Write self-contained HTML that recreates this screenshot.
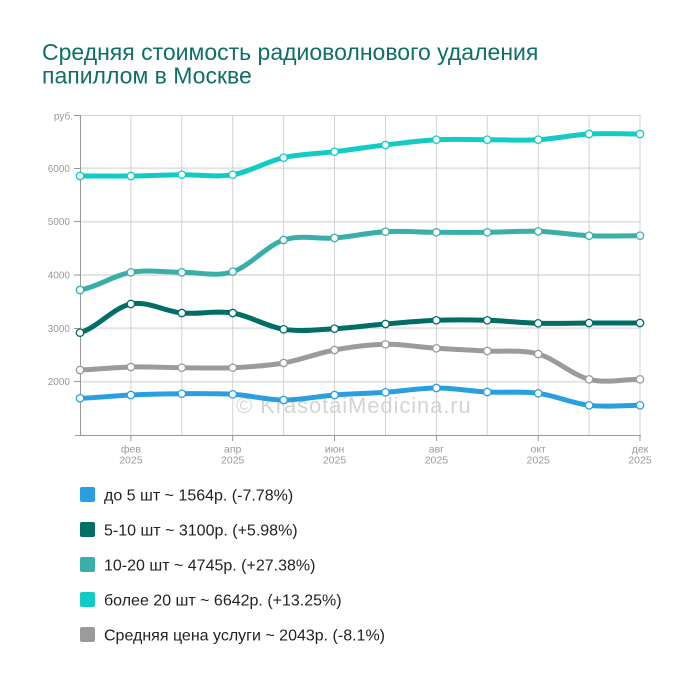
<!DOCTYPE html>
<html>
<head>
<meta charset="utf-8">
<style>
html,body{margin:0;padding:0;background:#fff;}
svg{display:block;}
text{font-family:"Liberation Sans","DejaVu Sans",sans-serif;}
</style>
</head>
<body>
<svg width="700" height="680" viewBox="0 0 700 680" xmlns="http://www.w3.org/2000/svg">
<rect width="700" height="680" fill="#fff"/>
<!-- Title -->
<text x="42" y="60" font-size="23" fill="#0f6e67">Средняя стоимость радиоволнового удаления</text>
<text x="42" y="83.3" font-size="23" fill="#0f6e67">папиллом в Москве</text>

<!-- horizontal gridlines -->
<g stroke="#e4e4e4" stroke-width="2">
<line x1="80" y1="168.3" x2="641" y2="168.3"/>
<line x1="80" y1="221.7" x2="641" y2="221.7"/>
<line x1="80" y1="275" x2="641" y2="275"/>
<line x1="80" y1="328.3" x2="641" y2="328.3"/>
<line x1="80" y1="381.7" x2="641" y2="381.7"/>
</g>
<line x1="80" y1="115.5" x2="641" y2="115.5" stroke="#d3d3d3" stroke-width="1"/>
<!-- vertical gridlines -->
<g stroke="#d3d3d3" stroke-width="1">
<line x1="130.9" y1="115" x2="130.9" y2="435"/>
<line x1="181.8" y1="115" x2="181.8" y2="435"/>
<line x1="232.7" y1="115" x2="232.7" y2="435"/>
<line x1="283.6" y1="115" x2="283.6" y2="435"/>
<line x1="334.5" y1="115" x2="334.5" y2="435"/>
<line x1="385.5" y1="115" x2="385.5" y2="435"/>
<line x1="436.4" y1="115" x2="436.4" y2="435"/>
<line x1="487.3" y1="115" x2="487.3" y2="435"/>
<line x1="538.2" y1="115" x2="538.2" y2="435"/>
<line x1="589.1" y1="115" x2="589.1" y2="435"/>
<line x1="640" y1="115" x2="640" y2="435"/>
</g>
<!-- axes -->
<g stroke="#999" stroke-width="1">
<line x1="80.5" y1="115" x2="80.5" y2="435"/>
<line x1="75" y1="435.5" x2="641" y2="435.5"/>
<line x1="74" y1="115.5" x2="80" y2="115.5"/>
<line x1="74" y1="168.5" x2="80" y2="168.5"/>
<line x1="74" y1="221.5" x2="80" y2="221.5"/>
<line x1="74" y1="275" x2="80" y2="275"/>
<line x1="74" y1="328.5" x2="80" y2="328.5"/>
<line x1="74" y1="381.5" x2="80" y2="381.5"/>
<line x1="130.9" y1="435" x2="130.9" y2="441"/>
<line x1="232.7" y1="435" x2="232.7" y2="441"/>
<line x1="334.5" y1="435" x2="334.5" y2="441"/>
<line x1="436.4" y1="435" x2="436.4" y2="441"/>
<line x1="538.2" y1="435" x2="538.2" y2="441"/>
<line x1="640" y1="435" x2="640" y2="441"/>
</g>
<!-- y labels -->
<g font-size="10" fill="#999" text-anchor="end">
<text x="73" y="119.5">руб.</text>
<text x="70" y="171.8">6000</text>
<text x="70" y="225.2">5000</text>
<text x="70" y="278.5">4000</text>
<text x="70" y="331.8">3000</text>
<text x="70" y="385.2">2000</text>
</g>
<!-- x labels -->
<g font-size="10.5" fill="#999" text-anchor="middle">
<text x="130.9" y="452.7">фев</text><text x="130.9" y="463.5">2025</text>
<text x="232.7" y="452.7">апр</text><text x="232.7" y="463.5">2025</text>
<text x="334.5" y="452.7">июн</text><text x="334.5" y="463.5">2025</text>
<text x="436.4" y="452.7">авг</text><text x="436.4" y="463.5">2025</text>
<text x="538.2" y="452.7">окт</text><text x="538.2" y="463.5">2025</text>
<text x="640" y="452.7">дек</text><text x="640" y="463.5">2025</text>
</g>

<!-- watermark -->
<text x="236" y="413" font-size="22" letter-spacing="0.9" fill="#d4d4d4">© KrasotaiMedicina.ru</text>

<!-- series -->
<g fill="none" stroke-width="5" stroke-linecap="round" stroke-linejoin="round">
<path stroke="#2a9fe0" d="M80,398.3 C96.97,397.75 113.94,395.77 130.91,395 C147.88,394.23 164.85,393.82 181.82,393.7 C198.79,393.58 215.76,393.25 232.73,394.3 C249.70,395.35 266.67,399.88 283.64,400 C300.61,400.12 317.58,396.28 334.55,395 C351.52,393.72 368.48,393.47 385.45,392.3 C402.42,391.13 419.39,388.05 436.36,388 C453.33,387.95 470.30,391.12 487.27,392 C504.24,392.88 521.21,391.08 538.18,393.3 C555.15,395.52 572.12,403.3 589.09,405.3 C606.06,407.3 623.03,405.3 640,405.3"/>
<path stroke="#9b9b9b" d="M80,370 C96.97,369.5 113.94,367.38 130.91,367 C147.88,366.62 164.85,367.58 181.82,367.7 C198.79,367.82 215.76,368.48 232.73,367.7 C249.70,366.92 266.67,365.95 283.64,363 C300.61,360.05 317.58,353.12 334.55,350 C351.52,346.88 368.48,344.58 385.45,344.3 C402.42,344.02 419.39,347.18 436.36,348.3 C453.33,349.42 470.30,350.05 487.27,351 C504.24,351.95 521.21,349.28 538.18,354 C555.15,358.72 572.12,375.08 589.09,379.3 C606.06,383.52 623.03,379.3 640,379.3"/>
<path stroke="#006d66" d="M80,332.7 C96.97,327.92 113.94,307.28 130.91,304 C147.88,300.72 164.85,311.5 181.82,313 C198.79,314.5 215.76,310.28 232.73,313 C249.70,315.72 266.67,326.68 283.64,329.3 C300.61,331.92 317.58,329.58 334.55,328.7 C351.52,327.82 368.48,325.4 385.45,324 C402.42,322.6 419.39,320.92 436.36,320.3 C453.33,319.68 470.30,319.8 487.27,320.3 C504.24,320.8 521.21,322.85 538.18,323.3 C555.15,323.75 572.12,323.05 589.09,323 C606.06,322.95 623.03,323 640,323"/>
<path stroke="#3aafa9" d="M80,290 C96.97,287.05 113.94,275.25 130.91,272.3 C147.88,269.35 164.85,272.4 181.82,272.3 C198.79,272.2 215.76,277.08 232.73,271.7 C249.70,266.32 266.67,245.62 283.64,240 C300.61,234.38 317.58,239.38 334.55,238 C351.52,236.62 368.48,232.65 385.45,231.7 C402.42,230.75 419.39,232.2 436.36,232.3 C453.33,232.4 470.30,232.47 487.27,232.3 C504.24,232.13 521.21,230.73 538.18,231.3 C555.15,231.87 572.12,234.97 589.09,235.7 C606.06,236.43 623.03,235.7 640,235.7"/>
<path stroke="#12cbc4" d="M80,176 C96.97,176 113.94,176.2 130.91,176 C147.88,175.8 164.85,174.9 181.82,174.7 C198.79,174.5 215.76,177.5 232.73,174.7 C249.70,171.9 266.67,161.5 283.64,157.7 C300.61,153.9 317.58,153.8 334.55,151.7 C351.52,149.6 368.48,147 385.45,145 C402.42,143 419.39,140.6 436.36,139.7 C453.33,138.8 470.30,139.7 487.27,139.7 C504.24,139.7 521.21,140.65 538.18,139.7 C555.15,138.75 572.12,134.95 589.09,134 C606.06,133.05 623.03,134 640,134"/>
</g>

<!-- markers -->
<g fill="#fff" stroke-width="1.3">
<g stroke="#2a9fe0">
<circle cx="80" cy="398.3" r="3.7"/><circle cx="130.91" cy="395" r="3.7"/><circle cx="181.82" cy="393.7" r="3.7"/><circle cx="232.73" cy="394.3" r="3.7"/><circle cx="283.64" cy="400" r="3.7"/><circle cx="334.55" cy="395" r="3.7"/><circle cx="385.45" cy="392.3" r="3.7"/><circle cx="436.36" cy="388" r="3.7"/><circle cx="487.27" cy="392" r="3.7"/><circle cx="538.18" cy="393.3" r="3.7"/><circle cx="589.09" cy="405.3" r="3.7"/><circle cx="640" cy="405.3" r="3.7"/>
</g>
<g stroke="#9b9b9b">
<circle cx="80" cy="370" r="3.7"/><circle cx="130.91" cy="367" r="3.7"/><circle cx="181.82" cy="367.7" r="3.7"/><circle cx="232.73" cy="367.7" r="3.7"/><circle cx="283.64" cy="363" r="3.7"/><circle cx="334.55" cy="350" r="3.7"/><circle cx="385.45" cy="344.3" r="3.7"/><circle cx="436.36" cy="348.3" r="3.7"/><circle cx="487.27" cy="351" r="3.7"/><circle cx="538.18" cy="354" r="3.7"/><circle cx="589.09" cy="379.3" r="3.7"/><circle cx="640" cy="379.3" r="3.7"/>
</g>
<g stroke="#006d66">
<circle cx="80" cy="332.7" r="3.7"/><circle cx="130.91" cy="304" r="3.7"/><circle cx="181.82" cy="313" r="3.7"/><circle cx="232.73" cy="313" r="3.7"/><circle cx="283.64" cy="329.3" r="3.7"/><circle cx="334.55" cy="328.7" r="3.7"/><circle cx="385.45" cy="324" r="3.7"/><circle cx="436.36" cy="320.3" r="3.7"/><circle cx="487.27" cy="320.3" r="3.7"/><circle cx="538.18" cy="323.3" r="3.7"/><circle cx="589.09" cy="323" r="3.7"/><circle cx="640" cy="323" r="3.7"/>
</g>
<g stroke="#3aafa9">
<circle cx="80" cy="290" r="3.7"/><circle cx="130.91" cy="272.3" r="3.7"/><circle cx="181.82" cy="272.3" r="3.7"/><circle cx="232.73" cy="271.7" r="3.7"/><circle cx="283.64" cy="240" r="3.7"/><circle cx="334.55" cy="238" r="3.7"/><circle cx="385.45" cy="231.7" r="3.7"/><circle cx="436.36" cy="232.3" r="3.7"/><circle cx="487.27" cy="232.3" r="3.7"/><circle cx="538.18" cy="231.3" r="3.7"/><circle cx="589.09" cy="235.7" r="3.7"/><circle cx="640" cy="235.7" r="3.7"/>
</g>
<g stroke="#12cbc4">
<circle cx="80" cy="176" r="3.7"/><circle cx="130.91" cy="176" r="3.7"/><circle cx="181.82" cy="174.7" r="3.7"/><circle cx="232.73" cy="174.7" r="3.7"/><circle cx="283.64" cy="157.7" r="3.7"/><circle cx="334.55" cy="151.7" r="3.7"/><circle cx="385.45" cy="145" r="3.7"/><circle cx="436.36" cy="139.7" r="3.7"/><circle cx="487.27" cy="139.7" r="3.7"/><circle cx="538.18" cy="139.7" r="3.7"/><circle cx="589.09" cy="134" r="3.7"/><circle cx="640" cy="134" r="3.7"/>
</g>
</g>

<!-- legend -->
<g>
<rect x="80" y="487" width="15" height="15" rx="2" fill="#2a9fe0"/>
<rect x="80" y="522" width="15" height="15" rx="2" fill="#006d66"/>
<rect x="80" y="557" width="15" height="15" rx="2" fill="#3aafa9"/>
<rect x="80" y="592" width="15" height="15" rx="2" fill="#12cbc4"/>
<rect x="80" y="627" width="15" height="15" rx="2" fill="#9b9b9b"/>
</g>
<g font-size="16" fill="#222">
<text x="104" y="500.5">до 5 шт ~ 1564р. (-7.78%)</text>
<text x="104" y="535.5">5-10 шт ~ 3100р. (+5.98%)</text>
<text x="104" y="570.5">10-20 шт ~ 4745р. (+27.38%)</text>
<text x="104" y="605.5">более 20 шт ~ 6642р. (+13.25%)</text>
<text x="104" y="640.5">Средняя цена услуги ~ 2043р. (-8.1%)</text>
</g>
</svg>
</body>
</html>
